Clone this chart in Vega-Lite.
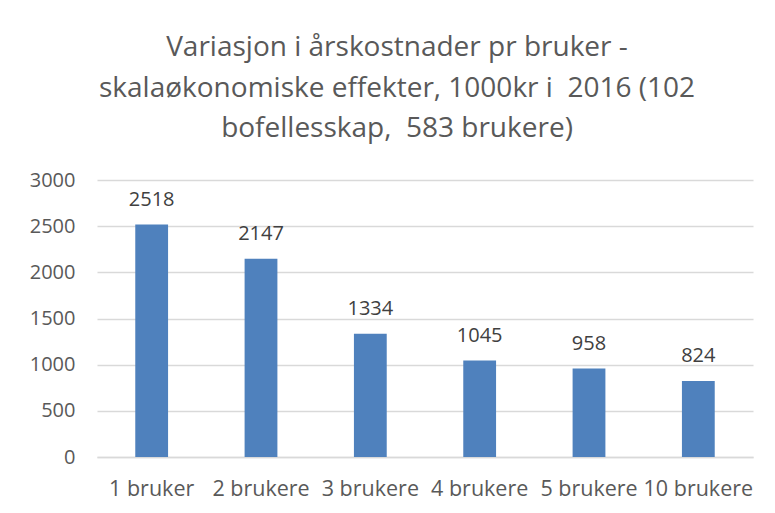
{
  "$schema": "https://vega.github.io/schema/vega-lite/v6.json",
  "width": 656,
  "height": 277,
  "autosize": "none",
  "padding": {"left": 97, "top": 180, "right": 22, "bottom": 56},
  "background": "white",
  "title": {
    "text": ["Variasjon i årskostnader pr bruker -", "skalaøkonomiske effekter, 1000kr i \u00a02016 (102", "bofellesskap, \u00a0583 brukere)"],
    "font": "Open Sans",
    "fontSize": 28,
    "fontWeight": "normal",
    "color": "#595959",
    "lineHeight": 40.5,
    "anchor": "middle",
    "dx": -28,
    "offset": 27
  },
  "data": {
    "values": [
      {"kategori": "1 bruker", "verdi": 2518},
      {"kategori": "2 brukere", "verdi": 2147},
      {"kategori": "3 brukere", "verdi": 1334},
      {"kategori": "4 brukere", "verdi": 1045},
      {"kategori": "5 brukere", "verdi": 958},
      {"kategori": "10 brukere", "verdi": 824}
    ]
  },
  "config": {
    "view": {"stroke": null},
    "axis": {
      "labelFont": "Open Sans",
      "labelFontSize": 20,
      "labelColor": "#595959",
      "title": null,
      "ticks": false
    }
  },
  "encoding": {
    "x": {
      "field": "kategori",
      "type": "nominal",
      "sort": null,
      "scale": {"paddingInner": 0.7, "paddingOuter": 0.35},
      "axis": {"labelAngle": 0, "labelFontSize": 21.5, "domain": true, "domainColor": "#d9d9d9", "domainWidth": 1.5, "labelPadding": 21}
    },
    "y": {
      "field": "verdi",
      "type": "quantitative",
      "scale": {"domain": [0, 3000]},
      "axis": {"values": [0, 500, 1000, 1500, 2000, 2500, 3000], "format": "d", "domain": false, "gridColor": "#d9d9d9", "gridWidth": 1.5, "labelPadding": 22}
    }
  },
  "layer": [
    {"mark": {"type": "bar", "color": "#4f81bd"}},
    {
      "mark": {"type": "text", "font": "Open Sans", "fontSize": 20, "color": "#404040", "baseline": "alphabetic", "dy": -19},
      "encoding": {"text": {"field": "verdi", "type": "quantitative"}}
    }
  ]
}
